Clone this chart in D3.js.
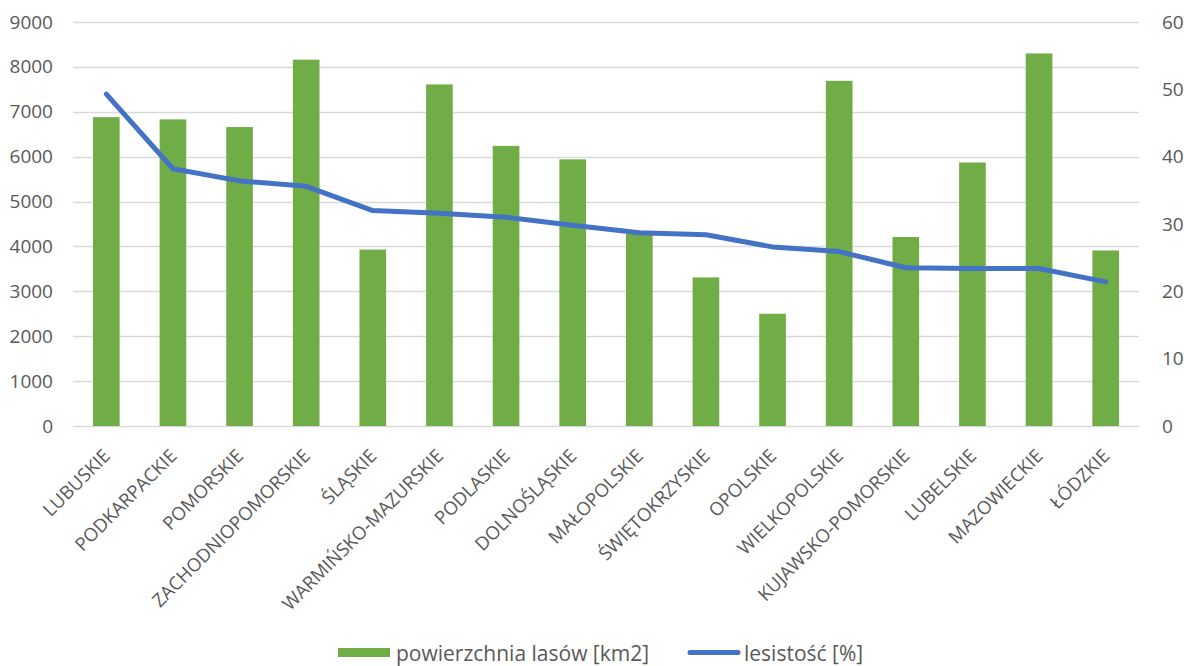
<!DOCTYPE html>
<html>
<head>
<meta charset="utf-8">
<script src="https://cdn.jsdelivr.net/npm/d3@7"></script>
<style>
  html, body { margin: 0; padding: 0; background: #ffffff; }
  svg { display: block; font-family: "Open Sans", sans-serif; }
</style>
</head>
<body>
<svg id="chart" width="1184" height="666"></svg>
<script>
const categories = ["LUBUSKIE","PODKARPACKIE","POMORSKIE","ZACHODNIOPOMORSKIE","ŚLĄSKIE","WARMIŃSKO-MAZURSKIE","PODLASKIE","DOLNOŚLĄSKIE","MAŁOPOLSKIE","ŚWIĘTOKRZYSKIE","OPOLSKIE","WIELKOPOLSKIE","KUJAWSKO-POMORSKIE","LUBELSKIE","MAZOWIECKIE","ŁÓDZKIE"];
const forestArea = [6880, 6830, 6660, 8160, 3930, 7610, 6240, 5940, 4280, 3310, 2500, 7690, 4210, 5870, 8300, 3910];
const forestCover = [49.3, 38.2, 36.4, 35.6, 32.0, 31.6, 31.0, 29.8, 28.7, 28.4, 26.6, 25.9, 23.5, 23.4, 23.4, 21.4];
const leftTicks = [0,1000,2000,3000,4000,5000,6000,7000,8000,9000];
const rightTicks = [0,10,20,30,40,50,60];
const seriesNames = ["powierzchnia lasów [km2]", "lesistość [%]"];

const svg = d3.select("#chart");
const plotLeft = 73, plotRight = 1139, plotTop = 22, plotBottom = 426;
const textColor = "#595959", gridColor = "#D9D9D9";
const barColor = "#70AD47", lineColor = "#4472C4";

const x = d3.scaleBand().domain(categories).range([plotLeft, plotRight]).paddingInner(0.6).paddingOuter(0.3);
const yL = d3.scaleLinear().domain([0, 9000]).range([plotBottom, plotTop]);
const yR = d3.scaleLinear().domain([0, 60]).range([plotBottom, plotTop]);

// gridlines
svg.append("g").selectAll("line").data(leftTicks).join("line")
  .attr("x1", plotLeft).attr("x2", plotRight)
  .attr("y1", d => Math.round(yL(d)) + 0.5).attr("y2", d => Math.round(yL(d)) + 0.5)
  .attr("stroke", gridColor).attr("stroke-width", 1.3);

// left axis
const axL = svg.append("g").attr("transform", `translate(${plotLeft - 20},0)`)
  .call(d3.axisLeft(yL).tickValues(leftTicks).tickSize(0).tickPadding(0).tickFormat(d3.format("d")));
axL.select(".domain").remove();
axL.selectAll("text").attr("fill", textColor).style("font-size", "19px").style("font-family", "'Open Sans', sans-serif");

// right axis
const axR = svg.append("g").attr("transform", `translate(${plotRight + 23},0)`)
  .call(d3.axisRight(yR).tickValues(rightTicks).tickSize(0).tickPadding(0).tickFormat(d3.format("d")));
axR.select(".domain").remove();
axR.selectAll("text").attr("x", 0).attr("text-anchor", "start")
  .attr("fill", textColor).style("font-size", "19px").style("font-family", "'Open Sans', sans-serif");

// bars
svg.append("g").selectAll("rect").data(categories).join("rect")
  .attr("x", d => x(d))
  .attr("width", x.bandwidth())
  .attr("y", (d, i) => yL(forestArea[i]))
  .attr("height", (d, i) => plotBottom - yL(forestArea[i]))
  .attr("fill", barColor);

// line
const line = d3.line()
  .x((d, i) => x(categories[i]) + x.bandwidth() / 2)
  .y(d => yR(d));
svg.append("path").datum(forestCover)
  .attr("d", line)
  .attr("fill", "none")
  .attr("stroke", lineColor)
  .attr("stroke-width", 5)
  .attr("stroke-linejoin", "round")
  .attr("stroke-linecap", "round");

// category labels
svg.append("g").selectAll("text").data(categories).join("text")
  .attr("transform", d => `translate(${x(d) + x.bandwidth() / 2 + 5},457) rotate(-45)`)
  .attr("text-anchor", "end")
  .attr("fill", textColor)
  .style("font-size", "18.5px")
  .text(d => d);

// legend
const lg = svg.append("g");
lg.append("rect").attr("x", 338).attr("y", 648).attr("width", 52).attr("height", 9).attr("fill", barColor);
lg.append("text").attr("x", 396).attr("y", 661).attr("fill", textColor).style("font-size", "21px").text(seriesNames[0]);
lg.append("line").attr("x1", 690).attr("x2", 738).attr("y1", 652.5).attr("y2", 652.5)
  .attr("stroke", lineColor).attr("stroke-width", 5).attr("stroke-linecap", "round");
lg.append("text").attr("x", 744).attr("y", 661).attr("fill", textColor).style("font-size", "21px").text(seriesNames[1]);
</script>
</body>
</html>
